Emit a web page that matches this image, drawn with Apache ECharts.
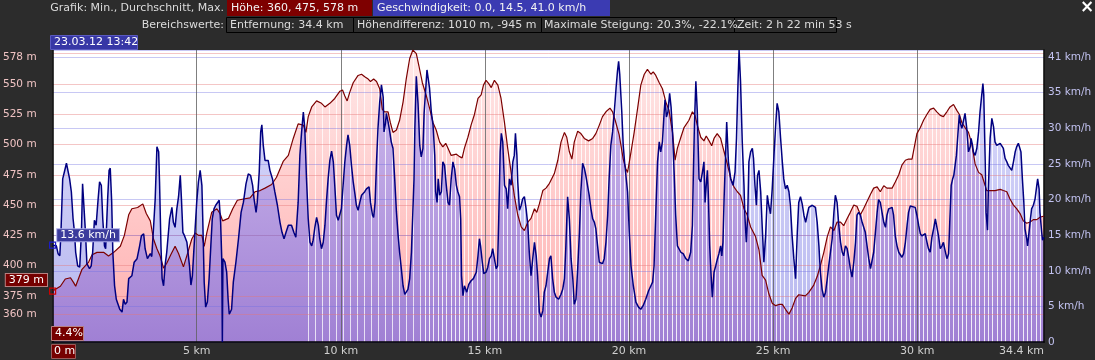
<!DOCTYPE html>
<html><head><meta charset="utf-8">
<script src="https://cdn.jsdelivr.net/npm/echarts@6/dist/echarts.min.js"></script>
<style>html,body{margin:0;padding:0;background:#2c2c2c;}#c{width:1095px;height:360px;}</style>
</head><body><div id="c"></div>
<script>
// ---- altitude profile (km, m)
const altKm = [0,0.27,0.44,0.62,0.73,0.80,0.91,1.02,1.14,1.25,1.37,1.54,1.77,1.94,2.12,2.35,2.49,2.64,2.75,2.95,3.13,3.25,3.39,3.50,3.62,3.73,3.85,3.96,4.10,4.25,4.37,4.54,4.68,4.83,4.95,5.06,5.18,5.26,5.35,5.52,5.70,5.81,5.90,6.10,6.25,6.41,6.62,6.85,7.02,7.20,7.37,7.60,7.77,8.00,8.18,8.35,8.52,8.58,8.70,8.79,8.87,8.99,9.16,9.33,9.45,9.62,9.79,9.97,10.06,10.14,10.22,10.31,10.43,10.60,10.72,10.83,10.95,11.03,11.14,11.24,11.35,11.44,11.52,11.64,11.72,11.81,11.93,12.04,12.16,12.27,12.39,12.50,12.62,12.71,12.83,12.97,13.08,13.20,13.31,13.43,13.54,13.64,13.72,13.83,14.01,14.12,14.21,14.29,14.41,14.52,14.64,14.76,14.87,14.95,15.04,15.14,15.22,15.33,15.45,15.56,15.68,15.79,15.91,16.02,16.14,16.26,16.37,16.49,16.60,16.72,16.80,16.89,17.01,17.12,17.24,17.30,17.41,17.53,17.64,17.76,17.84,17.93,18.02,18.10,18.22,18.33,18.45,18.60,18.74,18.85,18.97,19.08,19.20,19.34,19.43,19.52,19.66,19.80,19.89,19.95,20.07,20.18,20.30,20.41,20.53,20.64,20.76,20.84,20.93,21.05,21.16,21.28,21.39,21.51,21.60,21.68,21.80,21.91,22.08,22.20,22.29,22.37,22.49,22.60,22.68,22.78,22.87,22.95,23.06,23.18,23.30,23.41,23.53,23.64,23.76,23.87,23.99,24.10,24.22,24.39,24.51,24.62,24.74,24.85,24.97,25.09,25.20,25.32,25.43,25.55,25.66,25.78,25.89,26.12,26.24,26.41,26.53,26.64,26.76,26.88,26.99,27.11,27.22,27.34,27.45,27.57,27.68,27.80,27.91,28.03,28.14,28.26,28.38,28.49,28.61,28.72,28.84,28.95,29.13,29.24,29.36,29.47,29.59,29.70,29.82,29.91,29.99,30.11,30.22,30.34,30.45,30.57,30.68,30.80,30.91,31.03,31.14,31.26,31.38,31.46,31.55,31.66,31.78,31.89,32.01,32.13,32.24,32.36,32.41,32.53,32.70,32.88,32.99,33.11,33.22,33.34,33.45,33.57,33.68,33.80,33.92,34.03,34.15,34.26,34.40];
const altM = [379,383,389,390,386,383,390,397,400,403,409,411,411,408,411,416,425,442,447,448,451,443,437,422,414,408,398,402,409,416,410,399,410,422,427,425,425,416,427,444,447,443,437,439,447,454,455,456,461,462,464,467,473,486,491,505,517,517,516,510,523,531,536,534,531,534,538,544,545,540,536,543,551,557,558,556,554,552,554,552,546,529,527,527,518,510,512,520,535,554,571,578,575,565,551,540,530,518,512,502,498,501,497,491,492,490,489,497,506,516,525,538,541,549,553,550,547,553,549,538,518,497,477,458,442,432,429,436,439,447,444,451,462,464,468,469,476,487,502,510,506,494,488,502,511,509,505,503,505,509,516,523,527,530,527,520,508,488,480,477,494,510,530,549,558,562,558,560,557,551,546,535,528,510,487,497,506,514,520,527,524,516,506,503,507,503,499,505,509,505,494,484,472,465,461,458,447,442,432,424,413,392,388,377,369,367,368,368,364,360,365,373,376,375,378,384,391,400,411,424,432,429,436,436,433,439,444,450,449,442,447,453,459,464,465,461,466,464,464,469,475,483,487,488,488,499,509,514,520,525,529,530,527,524,523,527,531,533,528,525,518,514,510,501,484,477,475,466,462,462,462,463,462,461,455,450,447,443,437,435,436,438,438,440,441];
// ---- speed profile (km, km/h)
const spdKm = [0,0.13,0.19,0.25,0.29,0.35,0.41,0.48,0.54,0.59,0.65,0.71,0.76,0.80,0.87,0.94,1.00,1.04,1.09,1.14,1.19,1.28,1.34,1.39,1.45,1.51,1.58,1.63,1.69,1.74,1.80,1.84,1.91,1.96,2.00,2.05,2.09,2.15,2.21,2.27,2.33,2.41,2.46,2.52,2.58,2.64,2.75,2.83,2.93,3.02,3.08,3.16,3.21,3.29,3.39,3.44,3.50,3.56,3.62,3.68,3.71,3.76,3.80,3.85,3.91,3.96,4.06,4.14,4.19,4.25,4.31,4.37,4.43,4.47,4.52,4.58,4.66,4.75,4.80,4.85,4.91,5.00,5.06,5.12,5.18,5.21,5.26,5.31,5.37,5.43,5.49,5.54,5.60,5.66,5.72,5.78,5.83,5.87,5.89,5.91,5.98,6.04,6.09,6.13,6.21,6.27,6.36,6.45,6.54,6.62,6.71,6.79,6.87,6.94,6.99,7.06,7.10,7.17,7.22,7.26,7.31,7.37,7.48,7.54,7.63,7.71,7.80,7.89,7.96,8.03,8.10,8.18,8.29,8.37,8.44,8.47,8.52,8.58,8.64,8.70,8.75,8.81,8.87,8.93,8.99,9.04,9.10,9.16,9.22,9.27,9.33,9.39,9.45,9.50,9.56,9.62,9.68,9.74,9.79,9.85,9.91,9.97,10.02,10.08,10.14,10.20,10.25,10.31,10.37,10.43,10.49,10.54,10.60,10.66,10.72,10.83,10.89,10.98,11.03,11.10,11.14,11.19,11.24,11.29,11.35,11.41,11.47,11.50,11.55,11.58,11.64,11.70,11.75,11.81,11.87,11.93,11.99,12.04,12.10,12.16,12.22,12.27,12.33,12.39,12.45,12.50,12.54,12.57,12.62,12.68,12.74,12.79,12.85,12.89,12.94,12.99,13.04,13.08,13.14,13.20,13.26,13.29,13.34,13.38,13.43,13.49,13.54,13.60,13.66,13.72,13.77,13.83,13.89,13.95,14.01,14.06,14.12,14.16,14.19,14.24,14.29,14.37,14.44,14.52,14.60,14.70,14.76,14.81,14.85,14.91,14.96,15.04,15.10,15.16,15.22,15.27,15.33,15.39,15.44,15.48,15.53,15.57,15.62,15.68,15.74,15.79,15.85,15.91,15.97,16.02,16.06,16.11,16.14,16.20,16.26,16.31,16.37,16.43,16.49,16.54,16.60,16.66,16.72,16.78,16.83,16.89,16.95,17.01,17.06,17.12,17.18,17.24,17.29,17.35,17.41,17.47,17.56,17.64,17.70,17.76,17.81,17.87,17.93,17.99,18.05,18.10,18.16,18.22,18.28,18.33,18.39,18.45,18.51,18.56,18.62,18.68,18.74,18.80,18.85,18.91,18.97,19.03,19.08,19.14,19.20,19.26,19.31,19.37,19.43,19.49,19.55,19.60,19.64,19.68,19.75,19.80,19.85,19.89,19.95,20.01,20.07,20.15,20.24,20.33,20.41,20.49,20.58,20.68,20.76,20.82,20.87,20.93,20.99,21.05,21.10,21.16,21.22,21.25,21.30,21.35,21.41,21.46,21.51,21.57,21.62,21.68,21.74,21.80,21.88,21.97,22.06,22.14,22.20,22.23,22.27,22.32,22.37,22.43,22.49,22.55,22.60,22.64,22.68,22.72,22.75,22.80,22.85,22.89,22.95,23.01,23.07,23.12,23.18,23.22,23.26,23.30,23.35,23.39,23.45,23.53,23.61,23.68,23.73,23.78,23.82,23.87,23.93,23.99,24.02,24.07,24.12,24.16,24.22,24.28,24.32,24.37,24.42,24.46,24.51,24.57,24.62,24.68,24.74,24.80,24.85,24.91,24.97,25.03,25.09,25.14,25.20,25.26,25.32,25.37,25.43,25.49,25.55,25.60,25.66,25.72,25.78,25.84,25.89,25.95,26.01,26.07,26.13,26.18,26.24,26.36,26.47,26.53,26.59,26.64,26.70,26.76,26.82,26.88,26.93,26.99,27.05,27.11,27.16,27.22,27.28,27.34,27.40,27.45,27.51,27.57,27.63,27.68,27.74,27.80,27.86,27.91,27.97,28.03,28.09,28.14,28.20,28.26,28.32,28.38,28.43,28.49,28.55,28.61,28.66,28.72,28.78,28.84,28.90,28.95,29.01,29.13,29.18,29.24,29.30,29.36,29.47,29.53,29.59,29.65,29.70,29.76,29.82,29.93,29.99,30.05,30.11,30.16,30.22,30.28,30.34,30.39,30.45,30.51,30.57,30.63,30.68,30.74,30.80,30.86,30.91,30.97,31.03,31.09,31.13,31.18,31.23,31.27,31.32,31.36,31.41,31.46,31.50,31.55,31.61,31.66,31.72,31.78,31.84,31.87,31.92,31.95,32.01,32.07,32.13,32.18,32.24,32.28,32.31,32.36,32.39,32.44,32.47,32.53,32.59,32.65,32.70,32.76,32.82,32.88,32.93,32.99,33.05,33.11,33.16,33.22,33.28,33.34,33.40,33.45,33.51,33.57,33.60,33.65,33.70,33.74,33.80,33.83,33.88,33.93,33.97,34.03,34.09,34.15,34.18,34.23,34.26,34.32,34.35,34.40];
const spdKmh = [13.6,13.5,12.4,12.1,15.4,22.9,23.9,25.1,25.3,22.9,21.1,17.3,15.4,12.6,10.7,10.5,15.4,22.2,22.0,15.4,11.0,10.3,10.7,12.6,17.1,16.4,20.1,22.5,22.0,17.3,13.5,13.1,20.1,24.1,24.4,19.7,12.6,7.9,6.0,5.3,4.6,4.2,6.0,5.3,5.6,8.9,9.3,11.2,11.7,13.5,14.9,15.2,13.1,11.7,12.4,12.0,15.9,20.1,27.4,26.7,22.5,13.5,8.9,7.9,11.0,12.6,17.3,18.9,16.8,16.1,18.7,20.4,23.4,20.1,15.4,14.9,14.0,10.7,8.0,9.3,13.5,19.6,22.5,24.1,22.0,17.3,8.4,4.9,5.6,8.9,13.5,17.3,18.7,19.2,19.2,19.9,16.8,11.6,0,11.7,11.2,9.8,6.0,3.9,4.6,8.4,11.2,14.5,18.2,19.6,22.2,23.6,23.4,22.0,20.1,18.2,19.6,23.9,29.5,30.5,27.6,25.5,25.5,24.1,22.9,21.1,19.2,16.8,15.4,14.5,15.4,16.4,16.4,15.4,14.7,14.9,19.6,26.2,29.5,32.3,30.0,22.9,17.3,14.0,13.5,14.3,16.1,17.5,16.4,14.5,13.1,14.0,16.4,19.6,22.9,25.5,26.8,25.3,22.0,17.8,17.1,17.1,18.7,22.0,25.3,27.6,29.1,27.6,24.8,22.5,20.8,19.2,18.5,19.6,20.6,21.1,21.5,21.8,19.6,17.8,17.5,19.6,25.3,30.0,33.7,36.1,34.4,29.5,30.7,32.1,30.9,29.5,28.1,27.2,22.9,18.3,14.9,12.6,10.3,7.9,6.7,6.7,7.4,8.9,12.6,18.3,22.9,30.0,37.3,33.5,27.6,26.0,27.2,32.1,35.1,38.2,38.0,35.6,32.3,30.5,26.2,21.1,19.6,22.9,20.6,21.1,25.3,24.8,22.0,19.6,19.2,22.9,25.3,24.3,22.0,21.1,20.4,17.3,9.3,6.5,7.9,7.0,8.1,8.6,8.9,9.8,12.1,14.5,13.5,11.2,9.6,9.8,10.5,11.7,12.1,13.1,13.3,10.3,10.7,17.3,26.7,29.3,28.1,22.0,21.5,18.7,22.9,22.0,25.3,26.2,29.3,26.2,22.5,18.5,19.2,20.1,20.4,18.7,16.4,12.6,9.3,11.7,14.0,12.1,9.3,4.2,3.5,4.4,7.0,7.9,9.8,11.7,12.1,8.9,7.0,6.3,6.0,6.7,7.4,8.9,13.5,20.4,17.3,11.7,8.9,5.3,6.0,10.3,15.4,21.1,25.1,24.4,23.2,23.2,20.6,18.7,17.3,16.8,15.9,13.5,11.2,11.0,11.0,11.7,14.0,17.8,22.9,27.6,29.5,32.3,35.6,38.0,39.4,37.5,32.3,27.6,25.1,25.1,21.1,15.4,10.7,7.9,5.6,4.9,4.6,5.1,6.0,7.2,7.9,8.4,10.7,18.2,25.3,28.1,26.7,28.1,32.3,34.0,31.6,32.3,34.9,33.0,29.5,23.4,17.8,13.5,13.3,12.6,12.4,11.7,11.4,12.6,16.4,22.9,30.5,36.6,32.3,22.9,22.5,23.9,25.3,19.6,22.0,24.1,21.1,13.5,9.3,6.3,9.8,10.7,11.7,12.4,13.5,12.1,14.0,20.1,26.2,30.9,25.3,22.9,22.0,23.9,28.6,36.1,41.0,36.6,28.1,22.0,17.8,14.0,17.8,25.3,26.7,27.2,25.8,22.0,19.2,23.4,24.1,21.1,16.4,11.2,14.9,20.6,19.2,18.0,21.5,26.2,30.5,33.5,32.3,28.6,25.3,22.9,21.5,22.0,21.1,19.2,14.9,11.7,8.9,15.4,19.6,20.4,19.4,17.8,16.8,17.8,18.9,19.2,18.9,16.8,13.5,9.8,7.4,6.3,7.0,8.9,10.7,12.6,14.5,18.2,20.6,19.6,16.4,14.0,12.6,12.1,13.5,13.1,11.7,10.3,9.1,11.2,14.0,17.8,18.2,17.8,16.8,16.8,15.4,13.5,11.7,10.3,10.5,12.6,15.4,18.2,20.0,19.6,18.2,16.8,16.1,17.8,18.7,18.9,17.8,14.9,13.5,12.6,11.9,12.4,14.0,16.4,18.2,19.1,19.2,18.9,17.8,16.4,15.2,14.9,14.9,15.2,14.0,13.1,12.6,14.7,15.9,17.3,17.5,14.9,13.1,13.5,14.0,12.8,11.7,12.4,16.8,22.0,22.9,23.4,23.6,26.2,29.0,31.9,30.7,30.0,30.2,32.1,30.0,26.7,27.4,28.6,27.6,26.7,26.2,27.2,29.5,32.3,34.7,36.3,34.7,25.3,18.2,15.7,21.5,28.6,31.4,30.2,28.1,27.6,27.4,27.9,28.1,27.2,25.8,25.3,24.8,24.6,24.1,25.3,26.7,27.4,27.9,28.1,26.7,22.9,19.6,15.9,14.5,13.5,15.4,17.3,18.7,19.2,20.1,22.0,22.9,21.5,18.2,15.4,14.3,14.7];
// ---- axis ticks / grid values
const altLabelVals = [360,375,400,425,450,475,500,525,550,578];
const altGridVals = [360,375,400,425,450,475,500,525,550,575];
const altRange = [337, 578];
const spdRange = [0, 41];
const kmRange = [0, 34.4];
// ---- cursor readout at start
const cursorKm = 0, cursorAlt = 379, cursorSpd = 13.6;
// ---- zones where the sampled fill shows white gaps (km)
const gapZoneSparse = [8.7, 12.9];
const gapZoneDense = [12.9, 34.4];

const FONT = '"DejaVu Sans", sans-serif';
const altData = altKm.map((k, i) => [k, altM[i]]);
const spdData = spdKm.map((k, i) => [k, spdKmh[i]]);

function grad(top, bottom) {
  return new echarts.graphic.LinearGradient(0, 50, 0, 342,
    [{offset: 0, color: top}, {offset: 1, color: bottom}], true);
}
function stripes(w, xs, alpha) {
  const c = document.createElement('canvas');
  c.width = w; c.height = 4;
  const g = c.getContext('2d');
  g.fillStyle = 'rgba(255,255,255,' + alpha + ')';
  xs.forEach(x => g.fillRect(x, 0, 1, 4));
  return c;
}
const sparsePat = stripes(7, [0], 0.75);
const densePat = stripes(13, [0, 4, 9], 0.85);

const base = {type: 'line', xAxisIndex: 0, symbol: 'none', showSymbol: false, silent: true,
  zlevel: 1, animation: false, lineStyle: {width: 0, opacity: 0}};

const chart = echarts.init(document.getElementById('c'), null, {renderer: 'canvas'});

function txt(x, y, s, opt) {
  return Object.assign({type: 'text', x: x, y: y, zlevel: 2, z: 50, silent: true,
    style: Object.assign({text: s, fill: '#dcdcdc', font: '11px ' + FONT, align: 'left', verticalAlign: 'middle'}, opt || {})});
}
function rect(x, y, w, h, st) {
  return {type: 'rect', zlevel: 2, z: 40, silent: true, shape: {x: x, y: y, width: w, height: h}, style: st};
}

const option = {
  backgroundColor: '#2c2c2c',
  animation: false,
  grid: {left: 51, right: 51, top: 50, height: 292, show: true, backgroundColor: '#ffffff', borderWidth: 0},
  xAxis: {
    type: 'value', min: kmRange[0], max: kmRange[1], interval: 5,
    zlevel: 1, z: 10,
    axisLine: {show: true, onZero: false, lineStyle: {color: '#000', width: 1.5}},
    axisTick: {show: false},
    splitLine: {show: true, lineStyle: {color: 'rgba(95,95,95,0.8)', width: 1}},
    axisLabel: {
      color: '#cfcfcf', fontSize: 11, fontFamily: FONT, margin: 4,
      formatter: v => v === 0 ? '' : (v === kmRange[1] ? '{r|' + v + ' km}' : v + ' km'),
      rich: {r: {padding: [0, 45, 0, 0], color: '#cfcfcf', fontSize: 11, fontFamily: FONT}}
    }
  },
  yAxis: [
    {
      type: 'value', min: altRange[0], max: altRange[1], position: 'left',
      zlevel: 1, z: 10,
      axisLine: {show: true, lineStyle: {color: '#000', width: 1.5}},
      axisTick: {show: false},
      splitLine: {show: false},
      axisLabel: {
        customValues: altLabelVals,
        color: '#efc3c3', fontSize: 10.5, fontFamily: FONT, margin: 16,
        formatter: v => v === altRange[1] ? '{t|' + v + ' m}' : v + ' m',
        rich: {t: {padding: [14, 0, 0, 0], color: '#efc3c3', fontSize: 10.5, fontFamily: FONT}}
      }
    },
    {
      type: 'value', min: spdRange[0], max: spdRange[1], interval: 5, position: 'right',
      zlevel: 1, z: 10,
      axisLine: {show: true, lineStyle: {color: '#000', width: 1.5}},
      axisTick: {show: false},
      splitLine: {show: true, lineStyle: {color: 'rgba(110,110,225,0.38)', width: 1}},
      axisLabel: {
        color: '#c2c2f0', fontSize: 10.5, fontFamily: FONT, margin: 4,
        formatter: v => v === 0 ? '0' : (v === 40 ? '' : (v === spdRange[1] ? '{t|' + v + ' km/h}' : v + ' km/h')),
        rich: {t: {padding: [14, 0, 0, 0], color: '#c2c2f0', fontSize: 10.5, fontFamily: FONT}}
      }
    }
  ],
  series: [
    Object.assign({}, base, {name: 'spdArea', yAxisIndex: 1, z: 1, data: spdData,
      areaStyle: {origin: 'start', opacity: 1, color: grad('#dedefd', '#b6b6ee')}}),
    Object.assign({}, base, {name: 'overlap', yAxisIndex: 0, z: 2, data: altData, blendMode: 'source-atop',
      areaStyle: {origin: 'start', opacity: 1, color: grad('#d2c0f0', '#a080d4')}}),
    Object.assign({}, base, {name: 'altArea', yAxisIndex: 0, z: 3, data: altData, blendMode: 'destination-over',
      areaStyle: {origin: 'start', opacity: 1, color: grad('#ffe9e9', '#ffadad')}}),
    Object.assign({}, base, {name: 'gapsSparse', yAxisIndex: 1, z: 4,
      data: [[gapZoneSparse[0], spdRange[1]], [gapZoneSparse[1], spdRange[1]]],
      areaStyle: {origin: 'start', opacity: 1, color: {image: sparsePat, repeat: 'repeat'}}}),
    Object.assign({}, base, {name: 'gapsDense', yAxisIndex: 1, z: 4,
      data: [[gapZoneDense[0], spdRange[1]], [gapZoneDense[1], spdRange[1]]],
      areaStyle: {origin: 'start', opacity: 1, color: {image: densePat, repeat: 'repeat'}}}),
    Object.assign({}, base, {name: 'Höhe', yAxisIndex: 0, z: 12, data: altData,
      lineStyle: {color: '#7c0000', width: 1.2},
      markLine: {zlevel: 1, z: 9, silent: true, symbol: ['none', 'none'], animation: false,
        label: {show: false}, lineStyle: {color: 'rgba(228,120,120,0.42)', type: 'solid', width: 1},
        data: altGridVals.map(v => ({yAxis: v}))},
      markPoint: {zlevel: 1, z: 30, silent: true, animation: false, symbol: 'rect', symbolSize: 6,
        itemStyle: {color: 'rgba(0,0,0,0)', borderColor: '#d00000', borderWidth: 1.2},
        label: {show: true, position: 'left', distance: 2, offset: [0, -11], formatter: cursorAlt + ' m',
          color: '#fff', fontSize: 11, fontFamily: FONT, backgroundColor: '#760000',
          borderColor: '#b88080', borderWidth: 1, padding: [1, 3, 0, 3]},
        data: [{coord: [cursorKm, cursorAlt]}]}}),
    Object.assign({}, base, {name: 'Geschwindigkeit', yAxisIndex: 1, z: 13, data: spdData,
      lineStyle: {color: '#000080', width: 1.5},
      markPoint: {zlevel: 1, z: 30, silent: true, animation: false, symbol: 'rect', symbolSize: 6,
        itemStyle: {color: 'rgba(0,0,0,0)', borderColor: '#1c1cc8', borderWidth: 1.2},
        label: {show: true, position: 'right', distance: 1, offset: [0, -10], formatter: cursorSpd + ' km/h',
          color: '#fff', fontSize: 11, fontFamily: FONT, backgroundColor: '#3b3b9c',
          borderColor: '#a8a8e8', borderWidth: 1, padding: [1, 3, 0, 3]},
        data: [{coord: [cursorKm, cursorSpd]}]}})
  ],
  graphic: [
    txt(224, 8, 'Grafik: Min., Durchschnitt, Max.', {align: 'right'}),
    rect(227, 0, 145, 16, {fill: '#7e0000'}),
    txt(231, 8, 'Höhe: 360, 475, 578 m', {fill: '#f2f2f2'}),
    rect(373, 0, 237, 16, {fill: '#3b3bb2'}),
    txt(377, 8, 'Geschwindigkeit: 0.0, 14.5, 41.0 km/h', {fill: '#f2f2f2'}),
    txt(224, 25, 'Bereichswerte:', {align: 'right'}),
    rect(226.5, 17.5, 127, 15, {fill: 'rgba(0,0,0,0)', stroke: '#000', lineWidth: 1}),
    txt(230, 25, 'Entfernung: 34.4 km'),
    rect(353.5, 17.5, 188, 15, {fill: 'rgba(0,0,0,0)', stroke: '#000', lineWidth: 1}),
    txt(357, 25, 'Höhendifferenz: 1010 m, -945 m'),
    rect(541.5, 17.5, 193, 15, {fill: 'rgba(0,0,0,0)', stroke: '#000', lineWidth: 1}),
    txt(544, 25, 'Maximale Steigung: 20.3%, -22.1%'),
    rect(734.5, 17.5, 102, 15, {fill: 'rgba(0,0,0,0)', stroke: '#000', lineWidth: 1}),
    txt(737, 25, 'Zeit: 2 h 22 min 53 s'),
    txt(1087, 8, '×', {fill: '#ffffff', font: 'bold 17px ' + FONT, align: 'center'}),
    rect(50.5, 35.5, 87, 14, {fill: '#3737a6', stroke: '#5a5ac0', lineWidth: 1}),
    txt(54, 42.5, '23.03.12 13:42', {fill: '#ffffff', font: '11px ' + FONT}),
    rect(51.5, 326.5, 32, 14, {fill: '#760000', stroke: '#b88080', lineWidth: 1}),
    txt(55, 333.5, '4.4%', {fill: '#ffffff', font: '11px ' + FONT}),
    rect(51.5, 344.5, 24, 14, {fill: '#760000', stroke: '#9a5a5a', lineWidth: 1}),
    txt(54, 351.5, '0 m', {fill: '#ffffff', font: '11px ' + FONT})
  ]
};
chart.setOption(option);
</script>
</body></html>
